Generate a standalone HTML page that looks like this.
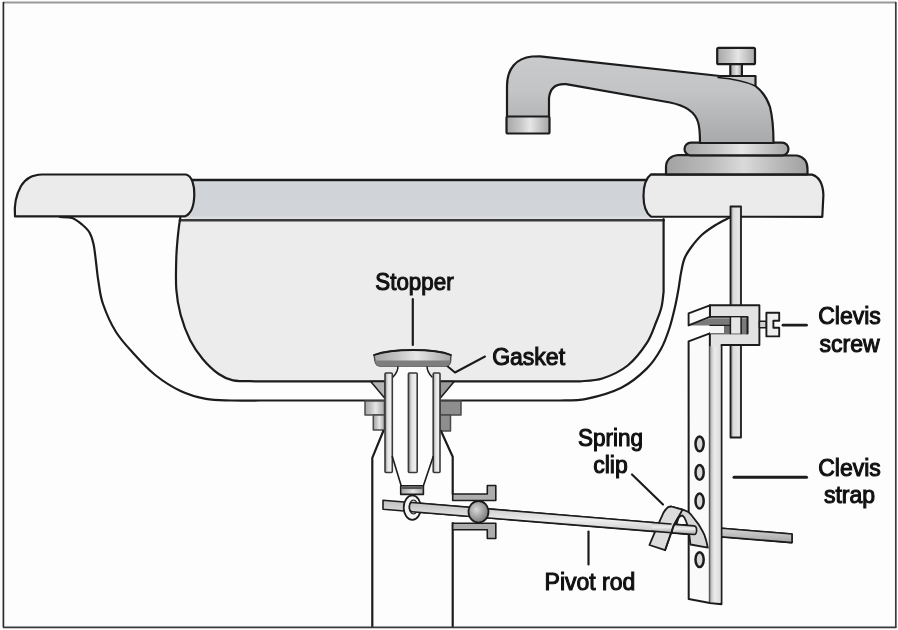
<!DOCTYPE html>
<html><head><meta charset="utf-8"><style>
html,body{margin:0;padding:0;background:#fdfdfd;}
svg{display:block;will-change:transform;}
text{font-family:"Liberation Sans",sans-serif;font-size:23px;fill:#111;stroke:#111;stroke-width:1.05px;}
</style></head><body>
<svg width="898" height="630" viewBox="0 0 898 630">
<defs>
<linearGradient id="mh" x1="0" y1="0" x2="1" y2="0">
<stop offset="0" stop-color="#a6a6a6"/><stop offset="0.3" stop-color="#c4c4c4"/><stop offset="0.55" stop-color="#e6e6e6"/><stop offset="0.8" stop-color="#c2c2c2"/><stop offset="1" stop-color="#a6a6a6"/>
</linearGradient>
<linearGradient id="mh2" x1="0" y1="0" x2="1" y2="0">
<stop offset="0" stop-color="#a2a2a2"/><stop offset="0.3" stop-color="#bababa"/><stop offset="0.55" stop-color="#dadada"/><stop offset="0.8" stop-color="#b8b8b8"/><stop offset="1" stop-color="#a0a0a0"/>
</linearGradient>
<linearGradient id="spout" gradientUnits="userSpaceOnUse" x1="0" y1="56" x2="0" y2="143">
<stop offset="0" stop-color="#c8cacc"/><stop offset="0.4" stop-color="#c2c4c6"/><stop offset="1" stop-color="#a7a9ab"/>
</linearGradient>
<linearGradient id="rod" x1="0" y1="0" x2="0" y2="1">
<stop offset="0" stop-color="#c0c0c0"/><stop offset="0.45" stop-color="#ededed"/><stop offset="1" stop-color="#a6a6a6"/>
</linearGradient>
<radialGradient id="ball" cx="0.4" cy="0.4" r="0.7">
<stop offset="0" stop-color="#d8d8d8"/><stop offset="1" stop-color="#6e6e6e"/>
</radialGradient>
<linearGradient id="bar" x1="0" y1="0" x2="1" y2="0">
<stop offset="0" stop-color="#909090"/><stop offset="0.4" stop-color="#e6e6e6"/><stop offset="1" stop-color="#f2f2f2"/>
</linearGradient>
<linearGradient id="nface" x1="0" y1="0" x2="1" y2="0">
<stop offset="0" stop-color="#6c6c6c"/><stop offset="0.22" stop-color="#cfcfcf"/><stop offset="0.5" stop-color="#ececec"/><stop offset="1" stop-color="#dadada"/>
</linearGradient>
<linearGradient id="lrod" x1="0" y1="0" x2="1" y2="0">
<stop offset="0" stop-color="#8a8a8a"/><stop offset="0.3" stop-color="#dcdcdc"/><stop offset="0.8" stop-color="#e6e6e6"/><stop offset="1" stop-color="#c4c4c4"/>
</linearGradient>
<linearGradient id="band" x1="0" y1="0" x2="0" y2="1">
<stop offset="0" stop-color="#dcdee1"/><stop offset="0.1" stop-color="#d0d3d7"/><stop offset="0.88" stop-color="#d1d4d8"/><stop offset="0.95" stop-color="#dee0e3"/><stop offset="1" stop-color="#dee0e3"/>
</linearGradient>
</defs>
<g fill="none" stroke="#1c1c1c" stroke-width="2.2" stroke-linejoin="round" stroke-linecap="round">

<!-- back wall band -->
<rect x="185" y="179.8" width="465" height="40.7" fill="url(#band)" stroke="none"/>
<line x1="190" y1="180" x2="650" y2="180" stroke-width="2.4"/>

<!-- basin interior -->
<path d="M180.5,216.5 C180.1,219.1 179.0,225.2 178.3,232.0 C177.6,238.8 176.6,248.0 176.3,257.6 C176.0,267.2 175.6,279.9 176.3,289.4 C177.0,298.9 178.3,306.3 180.6,314.8 C182.9,323.3 186.5,332.8 190.2,340.2 C193.9,347.6 198.2,353.6 202.9,359.2 C207.7,364.8 213.7,370.5 218.7,374.0 C223.7,377.5 226.9,379.1 233.0,380.3 C239.1,381.5 251.3,381.1 255.0,381.3 L580,381.3 C583.7,380.8 594.3,381.1 602.3,378.5 C610.2,375.9 620.3,371.4 627.7,365.5 C635.1,359.6 642.0,350.4 646.7,343.2 C651.5,335.9 653.7,328.0 656.2,322.0 C658.7,316.0 660.3,312.0 661.5,307.0 C662.7,302.0 663.2,294.5 663.6,292.0 L663.6,220.5 L180.5,220.5 Z" fill="#ececec" stroke="none"/>
<line x1="180" y1="220.3" x2="663.5" y2="220.3" stroke="#3a3a3a" stroke-width="2.6"/>
<path d="M180.5,216.5 C180.1,219.1 179.0,225.2 178.3,232.0 C177.6,238.8 176.6,248.0 176.3,257.6 C176.0,267.2 175.6,279.9 176.3,289.4 C177.0,298.9 178.3,306.3 180.6,314.8 C182.9,323.3 186.5,332.8 190.2,340.2 C193.9,347.6 198.2,353.6 202.9,359.2 C207.7,364.8 213.7,370.5 218.7,374.0 C223.7,377.5 226.9,379.1 233.0,380.3 C239.1,381.5 251.3,381.1 255.0,381.3 L385,381.3"/>
<path d="M440,381.3 L580,381.3 C583.7,380.8 594.3,381.1 602.3,378.5 C610.2,375.9 620.3,371.4 627.7,365.5 C635.1,359.6 642.0,350.4 646.7,343.2 C651.5,335.9 653.7,328.0 656.2,322.0 C658.7,316.0 660.3,312.0 661.5,307.0 C662.7,302.0 663.2,294.5 663.6,292.0 L663.6,219"/>

<!-- outer bowl -->
<path d="M60.0,217.0 C62.0,217.2 68.3,216.8 72.0,218.0 C75.7,219.2 79.1,222.1 82.0,224.5 C84.9,226.9 87.6,229.2 89.5,232.5 C91.4,235.8 92.4,239.1 93.5,244.0 C94.6,248.9 95.2,255.7 96.0,262.0 C96.8,268.3 97.3,275.0 98.5,282.0 C99.7,289.0 100.1,295.7 103.0,304.0 C105.9,312.3 110.8,323.7 116.0,332.0 C121.2,340.3 127.5,346.8 134.0,354.0 C140.5,361.2 147.4,368.8 155.2,375.0 C163.0,381.2 172.1,387.0 180.6,391.0 C189.1,395.0 197.5,397.3 206.0,398.9 C214.5,400.5 222.4,400.2 231.4,400.5 C240.4,400.8 255.2,400.5 260.0,400.5 L385,400.5 M440,400.5 L560,400.5 C564.4,400.2 576.2,400.9 586.4,398.8 C596.6,396.7 611.2,392.7 621.3,387.7 C631.3,382.7 640.1,375.1 646.7,368.6 C653.3,362.2 657.2,355.8 661.0,349.0 C664.8,342.2 667.2,335.0 669.5,328.0 C671.8,321.0 673.5,313.5 675.0,307.0 C676.5,300.5 677.5,294.7 678.5,289.0 C679.5,283.3 680.0,278.0 681.0,272.9 C682.0,267.8 682.8,262.7 684.5,258.5 C686.2,254.3 688.1,251.4 691.0,247.5 C693.9,243.6 698.0,238.5 702.0,234.8 C706.0,231.1 710.6,228.1 715.2,225.2 C719.8,222.3 727.1,218.9 729.5,217.6"/>

<!-- left rim -->
<path d="M15,216.3 C14,205 16,195 21,186 C26,178 32,175 42,174.5 L186,174.5 C192,176 194.5,185 194.3,195 C194,206 191,214 185,216.3 Z" fill="#ebebeb"/>

<!-- right rim -->
<path d="M651,174.4 L812,174.6 C820,177 823,185 823.4,195 L822.3,216.8 L651,216.6 C645,212.5 643.5,205 643.5,196 C643.5,186 646,178 651,174.4 Z" fill="#ebebeb"/>

<!-- faucet base ring 2 -->
<path d="M666,174.3 L666,167 C666,160 671,155.5 678,155 L797,155.5 C804,157 807.5,162 807.5,169 L807.5,174.3 Z" fill="url(#mh2)"/>
<!-- ring 1 -->
<rect x="684.5" y="142.6" width="104" height="12.8" rx="6.4" fill="url(#mh)"/>

<!-- spout -->
<path d="M507,117 L507,86 C507,69 516,58 532,56.5 L540,56.4 L720,76 L755.5,76 L755.5,86 C762,91 767,98 770,107 C772.5,117 773.5,128 773.5,143 L700,143 C700,135 700,128 698,122 C695,112 685,105.5 670,102.5 L566,84.2 C556,83.5 550,88 549,98 L549,117 Z" fill="url(#spout)"/>
<path d="M718,77.5 C735,79 747,82 755.5,86" stroke-width="1.5"/>
<!-- spout tip -->
<rect x="506.5" y="116.5" width="43" height="17" rx="1.5" fill="url(#mh)"/>
<!-- knob -->
<rect x="730.3" y="64" width="11.6" height="12" fill="url(#mh)"/>
<rect x="717.2" y="47.8" width="37.8" height="16.4" rx="1.5" fill="url(#mh)"/>

<!-- lift rod -->
<rect x="730.5" y="206.5" width="10.5" height="231" fill="url(#lrod)" stroke-width="1.8"/>

<!-- stopper -->
<!-- gaskets triangles in wall -->
<path d="M370.7,381.5 L385,381.5 L385,398.5 Z" fill="#b4b4b4" stroke-width="1.5"/>
<path d="M454.2,381.5 L440,381.5 L440,398.5 Z" fill="#9a9a9a" stroke-width="1.5"/>
<rect x="385" y="381" width="55" height="91" fill="#fdfdfd" stroke="none"/>
<path d="M398,366 C398,371 396,374 393,377 L393,382 L432,382 L432,377 C429,374 427,371 427,366 Z" fill="#fdfdfd" stroke="none"/>
<!-- necks -->
<path d="M398,366 C398,371 396,374 393,377" stroke-width="1.5"/>
<path d="M427,366 C427,371 429,374 432,377" stroke-width="1.5"/>
<!-- gasket leader -->
<path d="M446,365 L455,372.5 L485,356.5" stroke-width="2"/>
<!-- flange nut -->
<rect x="365" y="401" width="19.5" height="14" fill="url(#mh)" stroke="#4a4a4a" stroke-width="1.5"/>
<rect x="373.3" y="415" width="11.2" height="15" fill="url(#mh)" stroke="#4a4a4a" stroke-width="1.5"/>
<rect x="440" y="401" width="21" height="14" fill="#8e8e8e" stroke="#4a4a4a" stroke-width="1.5"/>
<rect x="440" y="415" width="10.5" height="16" fill="#8e8e8e" stroke="#4a4a4a" stroke-width="1.5"/>
<!-- tailpiece -->
<path d="M383.3,431 L372.3,457.8 L372.3,627"/>
<path d="M441,431 L452.7,456.7 L452.7,494"/>
<path d="M452.7,523 L452.7,627"/>
<!-- bars -->
<rect x="385" y="373" width="7.3" height="99.5" rx="1" fill="url(#bar)" stroke="#3a3a3a" stroke-width="1.6"/>
<rect x="408.4" y="373" width="8.8" height="99.5" rx="1" fill="url(#bar)" stroke="#3a3a3a" stroke-width="1.6"/>
<rect x="433.2" y="373" width="6.8" height="99.5" rx="1" fill="url(#bar)" stroke="#3a3a3a" stroke-width="1.6"/>
<!-- taper -->
<path d="M392.3,456.5 L401.2,485.7 M433.2,456.5 L423.4,485.7" stroke-width="1.6"/>
<rect x="400.7" y="485.7" width="22.7" height="8.7" fill="url(#mh)" stroke-width="1.6"/>
<rect x="401.5" y="486.5" width="21.1" height="2.6" fill="#555" stroke="none"/>
<!-- cap -->
<path d="M374,355 C385,351 400,350 413,350 C426,350 441,351 451,355 L450.5,362 C449.5,365 448,366 446,366 L380,366 C377,366 375.5,364 375,361 Z" fill="url(#mh)" stroke="#444" stroke-width="1.4"/>
<path d="M375.2,360.5 L450.6,360.5 L450.4,362.5 C449.5,365 448,366 446,366 L380,366 C377,366 375.5,364 375.2,361.5 Z" fill="#7e7e7e" stroke="none"/>
<path d="M374,355 C385,351 400,350 413,350 C426,350 441,351 451,355" stroke-width="1.8"/>
<line x1="412.8" y1="299" x2="412.8" y2="345" />

<!-- pivot fitting -->
<path d="M452.7,494 L487.3,494 L487.3,485.5 L495.8,485.5 L495.8,500.5 L452.7,500.5 Z" fill="#adadad" stroke-width="1.6"/>
<path d="M452.7,523.2 L495.8,523.2 L495.8,538.5 L487.3,538.5 L487.3,529.7 L452.7,529.7 Z" fill="#adadad" stroke-width="1.6"/>

<!-- pivot rod -->
<path id="rodL" d="M383,500.3 L792,534 L792,542.6 L383,509.3 Z" fill="url(#rod)" stroke-width="1.6"/>
<!-- eye -->
<ellipse cx="412.3" cy="507.6" rx="8.6" ry="12.2" fill="#f4f4f4" stroke-width="1.8"/>
<ellipse cx="413.5" cy="507" rx="4.2" ry="7" fill="#dcdcdc" stroke-width="1.2"/>
<path d="M412,502.5 L792,534 L792,542.6 L412,511.8 C408.5,511.5 408.5,502.2 412,502.5 Z" fill="url(#rod)" stroke-width="1.6"/>
<!-- ball -->
<ellipse cx="478.5" cy="511.8" rx="10" ry="10.8" fill="url(#ball)" stroke-width="1.8"/>

<!-- clevis strap -->
<path d="M688.6,341.4 L709.9,333.4 L709.9,603 L688.7,598.9 Z" fill="#fafafa" stroke-width="2"/>
<ellipse cx="699.6" cy="443.8" rx="4.1" ry="7.4" fill="#d8d8d8" stroke-width="2.5"/>
<ellipse cx="699.6" cy="472.4" rx="4.1" ry="7.4" fill="#d8d8d8" stroke-width="2.5"/>
<ellipse cx="699.6" cy="501" rx="4.1" ry="7.4" fill="#d8d8d8" stroke-width="2.5"/>
<ellipse cx="699.6" cy="559.6" rx="4.1" ry="7.4" fill="#d8d8d8" stroke-width="2.5"/>
<!-- clevis C + strap front -->
<path d="M709.9,305.3 H759.4 V345 H721.5 V604.3 L709.9,603 V333.4 H747.4 V316.9 H709.9 Z" fill="#e2e2e2" stroke-width="1.9"/>
<rect x="709.3" y="346.2" width="11.2" height="256" fill="url(#nface)" stroke="none"/>
<!-- opening interior -->
<rect x="709.9" y="316.9" width="37.5" height="16.5" fill="#f4f4f4" stroke="none"/>
<path d="M688.6,325.4 L709.9,318.3 L747.4,318.3 L747.4,333.4 L741,333.4 L741,325.4 Z" fill="#7a7a7a" stroke="none"/>
<rect x="724" y="325.4" width="7" height="8" fill="#6e6e6e" stroke="none"/>
<path d="M709.9,316.9 H747.4 V333.4" stroke-width="1.8"/>
<line x1="709.9" y1="325.4" x2="731" y2="325.4" stroke-width="1.2"/>
<rect x="730.4" y="317.5" width="10.7" height="15.9" fill="#e6e6e6" stroke="none"/>
<path d="M730.4,317.5 V333.4 M741.1,317.5 V333.4" stroke-width="1.5"/>
<path d="M688.6,313.4 L709.9,305.3 L709.9,316.9 L688.6,325.4 Z" fill="#fafafa" stroke-width="1.9"/>
<!-- clevis screw -->
<rect x="759.4" y="321.3" width="7" height="6.5" fill="#cfcfcf" stroke-width="1.5"/>
<path d="M766.4,312.8 L779.2,312.8 L779.2,320.8 L773.4,320.8 L773.4,327.8 L779.2,327.8 L779.2,336.4 L766.4,336.4 Z" fill="#efefef" stroke-width="1.9"/>

<!-- spring clip -->
<path d="M671.2,506.5 L682.5,509.6 C685,510.5 687,511 688.6,512.2 C691,514 692,516 693.9,518.3 C695.5,520.5 697.5,522.5 699.1,525.3 C701,528.5 703,531.5 704.4,534.9 C706,539 707,543.5 707.8,547.6 L690.4,544.5 C690,541 689.8,539 689.5,536.7 C689,533 688.8,530.5 688,528 C687.3,525 686.8,523 686,521 C685,518.5 684,516.5 682.5,515.5 C681,515.5 679.5,516.5 678.5,518 L676.4,524.4 Z" fill="#d6d6d6" stroke-width="1.8"/>
<path d="M672,524.1 L694,525.9 C697.5,526.2 697.5,534.8 694,534.5 L672,532.8 Z" fill="url(#rod)" stroke-width="1.6"/>
<path d="M649.4,545 L665.1,550.2 L673.8,525.3 L678.2,517.5 L682.5,509.6 L671.2,506.5 C669.5,506.6 668.5,507 667.7,507.4 C665.5,509 664.5,511 663.3,513.1 L659.8,520.9 L653.7,534.9 Z" fill="#dcdcdc" stroke-width="1.8"/>
<path d="M652,522.5 L671,524 L671,532.7 L652,531.1 Z" fill="url(#rod)" stroke="none"/>
<path d="M652,522.5 L671,524 M652,531.1 L671,532.7" stroke-width="1.6"/>
<path d="M665.1,550.2 L673.8,525.3 L678.2,517.5" stroke-width="1.8"/>

<!-- leader lines -->
<line x1="588.5" y1="531.5" x2="588.5" y2="564.5"/>
<line x1="632" y1="474.5" x2="663" y2="504.5"/>
<line x1="734" y1="477.3" x2="806.5" y2="477.3" stroke-width="3"/>
<line x1="783" y1="325.2" x2="806.5" y2="325.2" stroke-width="2.8"/>
</g>

<!-- frame -->
<line x1="3" y1="2.5" x2="896" y2="2.5" stroke="#9a9a9a" stroke-width="2"/>
<line x1="3.4" y1="2" x2="3.4" y2="627.5" stroke="#2c2c2c" stroke-width="1.7"/>
<line x1="895.8" y1="2" x2="895.8" y2="627.5" stroke="#3a3a3a" stroke-width="1.7"/>
<line x1="3" y1="627.3" x2="896.5" y2="627.3" stroke="#3a3a3a" stroke-width="1.7"/>

<!-- labels -->
<text x="375.3" y="289.5" textLength="78.3" lengthAdjust="spacingAndGlyphs">Stopper</text>
<text x="492.2" y="365">Gasket</text>
<text x="849.5" y="324.2" text-anchor="middle">Clevis</text>
<text x="849.5" y="352" text-anchor="middle">screw</text>
<text x="610.4" y="445.7" text-anchor="middle" textLength="65" lengthAdjust="spacingAndGlyphs">Spring</text>
<text x="610.5" y="472.9" text-anchor="middle">clip</text>
<text x="849.5" y="475.9" text-anchor="middle">Clevis</text>
<text x="849.5" y="502.7" text-anchor="middle">strap</text>
<text x="544.6" y="589.6">Pivot rod</text>
</svg>
</body></html>
